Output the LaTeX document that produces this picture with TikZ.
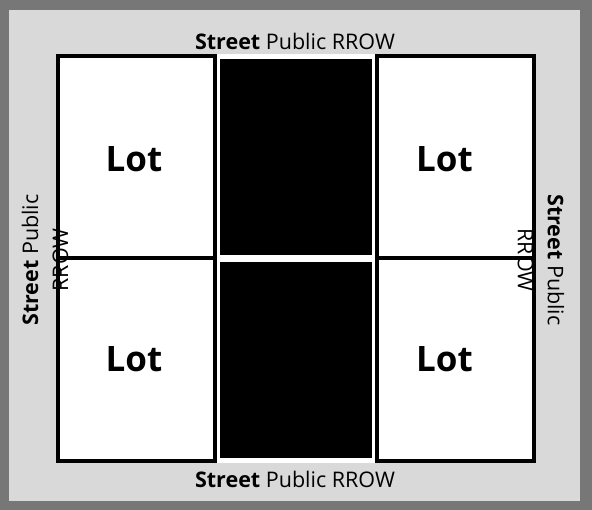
\documentclass[tikz,border=0pt]{standalone}
\usepackage{fontspec}
\setmainfont{Open Sans}
\definecolor{frame}{HTML}{777777}
\definecolor{street}{HTML}{D9D9D9}
\begin{document}
\begin{tikzpicture}[
    x=1pt, y=-1pt,
    lot/.style={rectangle, draw, line width=4pt, fill=white, inner sep=0pt,
                minimum width=157pt, minimum height=203pt},
    road/.style={rectangle, fill=black, inner sep=0pt, minimum width=152pt, minimum height=196pt},
    lotlabel/.style={anchor=base, inner sep=0pt, font=\fontsize{35}{40}\selectfont\bfseries},
    streetlabel/.style={inner sep=0pt, align=center, font=\fontsize{21.5}{30}\selectfont},
]
  % background
  \fill [frame]  (0,0)  rectangle (592,510);
  \fill [street] (9,10) rectangle (580,501);
  \fill [white]  (215,54) rectangle (377,463);
  % lots
  \node [lot]      (lotNW) at (136.5,157.5) {};
  \node [lot]      (lotSW) at (136.5,360  ) {};
  \node [lot]      (lotNE) at (455.5,157.5) {};
  \node [lot]      (lotSE) at (455.5,360  ) {};
  % middle block
  \node [road]     (roadN) at (296,157  ) {};
  \node [road]     (roadS) at (296,360  ) {};
  % labels
  \node [lotlabel] (txtNW) at (134,172) {Lot};
  \node [lotlabel] (txtSW) at (134,372) {Lot};
  \node [lotlabel] (txtNE) at (444.5,172) {Lot};
  \node [lotlabel] (txtSE) at (444.5,372) {Lot};
  \node [streetlabel, anchor=base] (stN) at (295,50 ) {\textbf{Street} Public RROW};
  \node [streetlabel, anchor=base] (stS) at (295,488) {\textbf{Street} Public RROW};
  \node [streetlabel, rotate=90]   (stW) at (45 ,260) {\textbf{Street} Public\\RROW};
  \node [streetlabel, rotate=-90]  (stE) at (541,260) {\textbf{Street} Public\\RROW};
\end{tikzpicture}
\end{document}
